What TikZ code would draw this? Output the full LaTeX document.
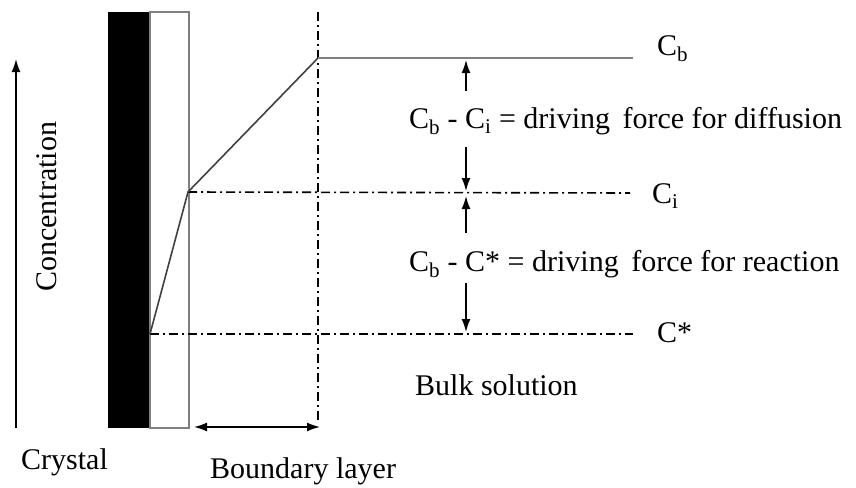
\documentclass[tikz,border=0pt]{standalone}
\usepackage{fontspec}
\setmainfont{Liberation Serif}
\usetikzlibrary{arrows.meta}
\begin{document}
\begin{tikzpicture}[x=1pt,y=-1pt,
 lbl/.style={font=\fontsize{30}{34}\selectfont, inner sep=0pt, anchor=west},
 gline/.style={draw=black!50, line width=2.8pt},
 prof/.style={draw=black!75, line width=1.6pt},
 dd/.style={line width=1.6pt, dash pattern=on 9pt off 4pt on 2pt off 4pt},
 arr/.style={line width=1.6pt, -{Latex[length=13pt,width=9pt]}},
 darr/.style={line width=1.6pt, {Latex[length=13pt,width=9pt]}-{Latex[length=13pt,width=9pt]}},
]
\useasboundingbox (0,0) rectangle (856,487);
% crystal
\fill (108,12) rectangle (150,428);
\draw[gline] (150,12) rectangle (189,428);
% coordinates
\coordinate (s0) at (150,334);
\coordinate (si) at (188,192);
\coordinate (sb) at (318,58);
\coordinate (cbend) at (633,58);
\coordinate (ciend) at (630,193);
\coordinate (csend) at (633,334);
\coordinate (vt) at (318,12);
\coordinate (vb) at (318,422);
% vertical boundary
\draw[dd] (vt) -- (vb);
% dash-dot levels
\draw[dd] (si) -- (ciend);
\draw[dd] (s0) -- (csend);
% profile
\draw[prof] (s0) -- (si) -- (sb);
\draw[gline] (sb) -- (cbend);
% labels
\node[lbl] (cb) at (657,49) {C\textsubscript{b}};
\node[lbl] (ci) at (652,196) {C\textsubscript{i}};
\node[lbl] (cs) at (657,333) {C*};
\node[lbl] (diff) at (409,121) {C\textsubscript{b} - C\textsubscript{i} = driving\, force for diffusion};
\node[lbl] (reac) at (409,264) {C\textsubscript{b} - C* = driving\, force for reaction};
\node[lbl] (bulk) at (415,385) {Bulk solution};
\node[lbl] (bl) at (210,471) {Boundary layer};
\node[lbl] (cry) at (21,462) {Crystal};
\node[lbl, anchor=center, rotate=90] (conc) at (47,207) {Concentration};
% driving force arrows
\coordinate (a1s) at (466,91);
\coordinate (a1e) at (466,60);
\coordinate (a2s) at (466,147);
\coordinate (a2e) at (466,191);
\coordinate (a3s) at (466,233);
\coordinate (a3e) at (466,196);
\coordinate (a4s) at (466,283);
\coordinate (a4e) at (466,332);
\draw[arr] (a1s) -- (a1e);
\draw[arr] (a2s) -- (a2e);
\draw[arr] (a3s) -- (a3e);
\draw[arr] (a4s) -- (a4e);
% concentration axis
\coordinate (cax0) at (16,428);
\coordinate (cax1) at (16,59);
\draw[arr] (cax0) -- (cax1);
% boundary layer width
\coordinate (bw0) at (194,427);
\coordinate (bw1) at (320,427);
\draw[darr] (bw0) -- (bw1);
\end{tikzpicture}
\end{document}
